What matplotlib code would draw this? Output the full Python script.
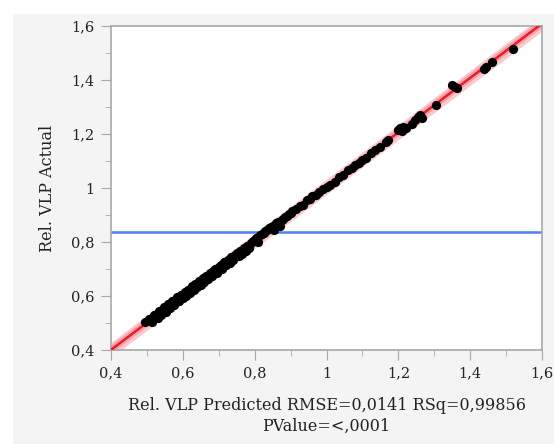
import matplotlib
matplotlib.use("Agg")
import matplotlib.pyplot as plt
from matplotlib.patches import Rectangle
from matplotlib.ticker import MultipleLocator, FuncFormatter
import numpy as np

# Actual-by-predicted values
predicted = [
    0.495, 0.505, 0.515, 0.520, 0.530, 0.535, 0.540, 0.548, 0.552, 0.560,
    0.565, 0.570, 0.575, 0.580, 0.585, 0.590, 0.595, 0.600, 0.605, 0.610,
    0.615, 0.620, 0.625, 0.630, 0.635, 0.640, 0.645, 0.650, 0.655, 0.660,
    0.665, 0.670, 0.675, 0.680, 0.685, 0.690, 0.695, 0.700, 0.705, 0.710,
    0.715, 0.720, 0.725, 0.730, 0.735, 0.740, 0.745, 0.750, 0.755, 0.760,
    0.765, 0.770, 0.775, 0.780, 0.785, 0.790, 0.795, 0.800, 0.805, 0.810,
    0.815, 0.820, 0.825, 0.830, 0.835, 0.840, 0.845, 0.850, 0.855, 0.860,
    0.865, 0.870, 0.875, 0.880, 0.885, 0.890, 0.895, 0.900, 0.905, 0.915,
    0.925, 0.935, 0.945, 0.955, 0.960, 0.970, 0.980, 0.990, 1.000, 1.010,
    1.025, 1.035, 1.045, 1.060, 1.070, 1.080, 1.090, 1.100, 1.110, 1.125,
    1.135, 1.150, 1.165, 1.172, 1.200, 1.205, 1.210, 1.213, 1.220, 1.238,
    1.247, 1.255, 1.261, 1.265, 1.305, 1.350, 1.358, 1.364, 1.439, 1.445,
    1.461, 1.520,
]
actual = [
    0.503, 0.515, 0.504, 0.531, 0.519, 0.544, 0.530, 0.559, 0.542, 0.569,
    0.555, 0.581, 0.566, 0.590, 0.595, 0.580, 0.604, 0.591, 0.615, 0.600,
    0.624, 0.611, 0.636, 0.622, 0.644, 0.633, 0.655, 0.641, 0.665, 0.652,
    0.674, 0.663, 0.687, 0.673, 0.693, 0.701, 0.685, 0.709, 0.714, 0.700,
    0.725, 0.713, 0.734, 0.721, 0.745, 0.733, 0.751, 0.760, 0.747, 0.767,
    0.755, 0.779, 0.768, 0.787, 0.776, 0.798, 0.805, 0.809, 0.814, 0.801,
    0.825, 0.831, 0.835, 0.841, 0.844, 0.851, 0.854, 0.861, 0.846, 0.869,
    0.874, 0.859, 0.881, 0.887, 0.892, 0.896, 0.902, 0.907, 0.915, 0.924,
    0.934, 0.938, 0.954, 0.958, 0.971, 0.975, 0.986, 0.996, 1.004, 1.012,
    1.022, 1.041, 1.049, 1.066, 1.075, 1.084, 1.094, 1.104, 1.112, 1.128,
    1.141, 1.152, 1.170, 1.178, 1.215, 1.222, 1.211, 1.226, 1.222, 1.237,
    1.252, 1.262, 1.270, 1.258, 1.307, 1.381, 1.375, 1.370, 1.441, 1.450,
    1.467, 1.515,
]
mean_actual = 0.837
band_outer = 0.028
band_inner = 0.012

x_label = "Rel. VLP Predicted RMSE=0,0141 RSq=0,99856\nPValue=<,0001"
y_label = "Rel. VLP Actual"

plt.rcParams["font.family"] = ["DejaVu Serif"]

fig = plt.figure(figsize=(5.54, 4.44), dpi=100)
fig.patches.append(Rectangle((13 / 554, 0), 1, 1 - 14 / 444, transform=fig.transFigure,
                             facecolor="#f4f4f4", edgecolor="none", zorder=-10))
ax = fig.add_axes([111 / 554, 94 / 444, 431 / 554, 324 / 444])
ax.set_facecolor("white")

# least-squares fit line with shaded band
slope, intercept = np.polyfit(predicted, actual, 1)
xs = np.linspace(0.4, 1.6, 50)
fit = slope * xs + intercept
ax.fill_between(xs, fit - band_outer, fit + band_outer, color="#fcc8ce", lw=0, zorder=1)
ax.plot(xs, fit - band_inner, color="#f49aa3", lw=1, zorder=2)
ax.plot(xs, fit + band_inner, color="#f49aa3", lw=1, zorder=2)
ax.plot(xs, fit, color="#e8202e", lw=2, zorder=3)
ax.axhline(mean_actual, color="#4f7ff0", lw=1.8, zorder=2)
ax.scatter(predicted, actual, s=44, color="black", zorder=4, linewidths=0)

ax.set_xlim(0.4, 1.6)
ax.set_ylim(0.4, 1.6)
fmt = FuncFormatter(lambda v, p: f"{v:g}".replace(".", ","))
for axis in (ax.xaxis, ax.yaxis):
    axis.set_major_locator(MultipleLocator(0.2))
    axis.set_minor_locator(MultipleLocator(0.1))
    axis.set_major_formatter(fmt)
ax.tick_params(which="major", length=7, color="#a8a8a8", labelsize=10.5, labelcolor="#222222", pad=5)
ax.tick_params(which="minor", length=4, color="#a8a8a8")
for s in ax.spines.values():
    s.set_color("#a8a8a8")
    s.set_linewidth(1.2)

ax.set_xlabel(x_label, fontsize=11.5, color="#222222", linespacing=1.25, labelpad=12)
ax.set_ylabel(y_label, fontsize=11.5, color="#222222", labelpad=11)

fig.savefig("out.png", dpi=100, facecolor="white")
